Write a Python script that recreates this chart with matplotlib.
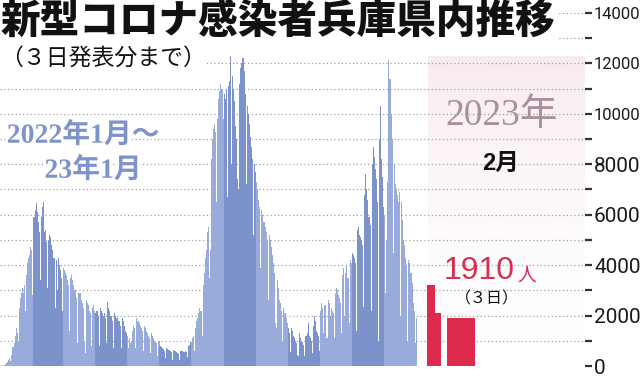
import numpy as np
import matplotlib
matplotlib.use("Agg")
import matplotlib.pyplot as plt
import matplotlib.patheffects as pe

plt.rcParams['font.family'] = ['Noto Sans CJK JP', 'DejaVu Sans']

# 兵庫県 新規感染者数（日別, 図から読み取り）
jan22 = [10, 20, 15, 50, 70, 100, 170, 250, 300, 180, 420, 750, 900, 1200, 1500, 1300,
         1000, 2300, 2700, 2900, 3100, 2900, 3200, 2200, 3600, 4100, 4300, 4400, 4700, 4600, 2800]
feb22 = [5900, 6200, 6450, 6100, 5700, 5300, 3400, 5900, 6300, 6500, 5300, 5400, 4900, 3100,
         5000, 5200, 5100, 4800, 4600, 4300, 2300, 4200, 3000, 4300, 4000, 3800, 3500, 2200]
mar22 = [3900, 3800, 3700, 3600, 3400, 3200, 1400, 3500, 3600, 3400, 3200, 3000, 2700, 900,
         2900, 2900, 2900, 2600, 2500, 2300, 1000, 500, 2600, 2500, 2400, 2200, 2100, 800,
         2300, 2400, 2200]
apr22 = [2100, 2200, 2000, 800, 2300, 2200, 2100, 2000, 2100, 1900, 900, 2550, 2300, 2200,
         2000, 2000, 1800, 700, 2100, 2000, 1900, 1800, 1800, 1600, 700, 1900, 1800, 1600,
         1400, 1300]
may22 = [1200, 700, 1100, 900, 1000, 1400, 1600, 1500, 700, 1900, 1800, 1700, 1600, 1500,
         1400, 600, 1600, 1500, 1400, 1300, 1200, 1100, 500, 1300, 1200, 1100, 1000, 950,
         900, 400, 1000]
jun22 = [800, 750, 700, 680, 600, 300, 700, 680, 650, 620, 600, 550, 250, 650, 600, 580,
         560, 520, 480, 230, 600, 580, 560, 560, 580, 560, 350, 800, 850, 950]
jul22 = [950, 1100, 1200, 600, 1500, 1800, 1900, 2100, 2300, 2200, 1200, 3200, 3700, 4300,
         4600, 5300, 5500, 3500, 4600, 8200, 9000, 9400, 9600, 9300, 6500, 9800, 10600,
         10900, 11200, 11000, 9800]
aug22 = [10800, 10600, 11000, 6700, 11100, 11300, 12300, 8000, 11500, 11000, 10500, 9500,
         9000, 7400, 7000, 11200, 11800, 12000, 12200, 11700, 10800, 7200, 10300, 10000,
         9600, 9100, 8700, 8200, 5200, 8000, 7700]
sep22 = [7300, 7000, 6600, 6300, 3900, 6200, 6000, 5700, 5500, 5300, 5000, 2600, 5200, 5000,
         4700, 4400, 4100, 3700, 1700, 1500, 3400, 3100, 2600, 2500, 2200, 1000, 2300, 2100,
         1900, 1700]
oct22 = [1500, 1300, 550, 1500, 1400, 1200, 1100, 1000, 900, 450, 400, 1300, 1100, 1000,
         950, 850, 400, 1200, 1300, 1700, 1200, 1100, 1000, 500, 1600, 2000, 1800, 1400,
         1300, 1200, 600]
nov22 = [2200, 2500, 2300, 1300, 2400, 2400, 1100, 2600, 2500, 2000, 2300, 2200, 2100, 1100,
         2900, 3100, 3000, 2800, 2700, 2500, 1300, 3600, 3900, 2000, 3700, 4000, 3500, 1700,
         4200, 4100]
dec22 = [4500, 4400, 4300, 4100, 1400, 5400, 5500, 5200, 5100, 5000, 4800, 2350, 6800, 7600,
         7000, 6600, 5900, 5600, 2200, 8000, 8700, 8300, 7800, 7400, 6500, 1000, 9000, 10300,
         8200, 7500, 6300]
jan23 = [6000, 2900, 5000, 7300, 12150, 11400, 10000, 9000, 4500, 8000, 7200, 7000, 6800,
         6500, 6900, 2000, 6500, 5800, 5000, 4800, 4300, 4000, 1000, 4200, 4100, 3700, 3300,
         2500, 2200, 900, 1900]
months = [jan22, feb22, mar22, apr22, may22, jun22, jul22, aug22, sep22, oct22, nov22, dec22, jan23]

# 2023年2月（1～3日）
feb23 = [3200, 2100, 1910]

yticks_major = [0, 2000, 4000, 6000, 8000, 10000, 12000, 14000]
ytick_labels = ['0', '2000', '4000', '6000', '8000', '10000', '12000', '14000']

W, H = 640, 377
light = '#98abdb'
dark = '#7c92ca'
red = '#dc2b4d'

fig = plt.figure(figsize=(W / 100, H / 100), dpi=100)
ax = fig.add_axes([0, 11 / H, 585 / W, 353 / H])

# bars, alternating shade per month
x0 = 0
for i, vals in enumerate(months):
    xs = np.arange(x0, x0 + len(vals))
    ax.bar(xs, vals, width=1.02, color=light if i % 2 == 0 else dark,
           linewidth=0, zorder=2)
    x0 += len(vals)

# Feb 2023 region (expanded scale)
pink_left = 406.2
xmax = 555.7
grad = np.linspace(1, 0, 200) ** 1.5
img = np.zeros((200, 1, 4))
img[..., 0] = 0.975
img[..., 1] = 0.925
img[..., 2] = 0.94
img[:, 0, 3] = grad
ax.imshow(img, extent=[pink_left, xmax, 1000, 12300], aspect='auto', zorder=0,
          interpolation='bilinear')

feb_x = [409.1, 415.7, 437.6]
feb_w = [7.6, 5.7, 26.7]
ax.bar(feb_x, feb23, width=feb_w, color=red, linewidth=0, zorder=2)

ax.set_xlim(-1.4, xmax)
ax.set_ylim(0, 14000)
ax.set_yticks(yticks_major)
ax.set_yticks(np.arange(1000, 14000, 2000), minor=True)
ax.set_yticklabels(ytick_labels)
ax.yaxis.tick_right()
ax.tick_params(axis='y', which='both', length=5, width=1.6, color='#333333', pad=1.5,
               labelcolor='#1a1a1a')
ax.tick_params(axis='x', bottom=False, labelbottom=False)
for lab in ax.get_yticklabels():
    lab.set_family(['Roboto', 'DejaVu Sans'])
    lab.set_fontsize(12 if len(lab.get_text()) > 4 else 15)
ax.yaxis.grid(True, which='both', linestyle=(0, (1, 2)), color='#a0a0a0', lw=0.9, zorder=1)
ax.set_axisbelow(True)
for s in ax.spines.values():
    s.set_visible(False)
ax.patch.set_alpha(0)


def fx(px):
    return px / W


def fy(py):
    return 1 - py / H


fig.text(fx(1), fy(21), '新型コロナ感染者兵庫県内推移', fontsize=28.5, fontweight='heavy',
         va='center', ha='left', color='#111111',
         bbox=dict(facecolor='white', edgecolor='none', pad=1))
fig.text(fx(0), fy(58), '（３日発表分まで）', fontsize=16.5, va='center', ha='left',
         color='#111111', bbox=dict(facecolor='white', edgecolor='none', pad=1))

stroke = [pe.withStroke(linewidth=4, foreground='white')]
fig.text(fx(83), fy(136), '2022年1月～', fontsize=20, fontweight='bold', color='#7d93c9',
         family=['Liberation Serif', 'Noto Sans CJK JP'], ha='center', va='center',
         path_effects=stroke)
fig.text(fx(93), fy(171), '23年1月', fontsize=20, fontweight='bold', color='#7d93c9',
         family=['Liberation Serif', 'Noto Sans CJK JP'], ha='center', va='center',
         path_effects=stroke)

fig.text(fx(502), fy(116), '2023年', fontsize=27, color='#a8909e',
         family=['Liberation Serif', 'Noto Sans CJK JP'], ha='center', va='center')
fig.text(fx(501), fy(163), '2月', fontsize=17, fontweight='bold', color='#111111',
         family=['Liberation Sans', 'Noto Sans CJK JP'], ha='center', va='center')

fig.text(fx(444), fy(271), '1910', fontsize=23, color='#d6304f',
         family=['Liberation Sans', 'DejaVu Sans'], ha='left', va='center')
fig.text(fx(517), fy(275), '人', fontsize=13.5, color='#d6304f', ha='left', va='center')
fig.text(fx(487), fy(299), '（３日）', fontsize=11.5, color='#111111', ha='center',
         va='center')

fig.savefig('out.png', dpi=100)
